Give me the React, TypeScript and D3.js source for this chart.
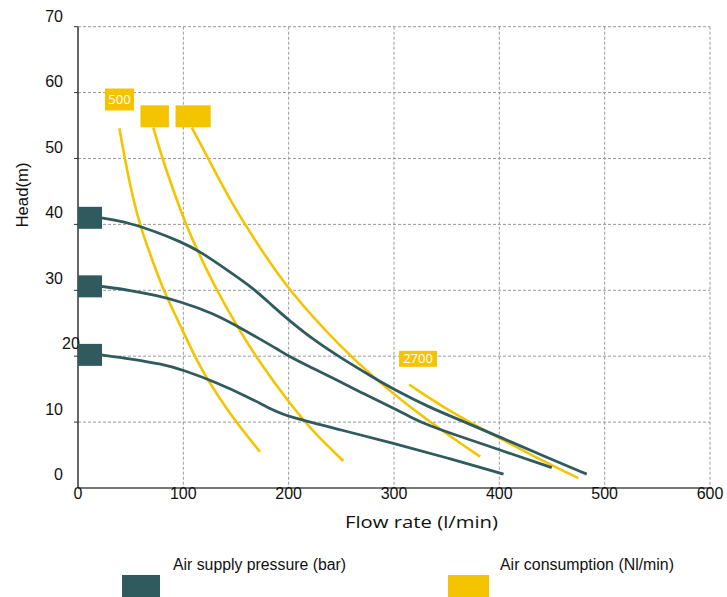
import React from "react";
import * as d3 from "d3";

// ---------- DATA ----------
const xTicks = [0, 100, 200, 300, 400, 500, 600];
const yTicks = [0, 10, 20, 30, 40, 50, 60, 70];

// Air supply pressure curves (flow l/min, head m)
const pressureHigh: [number, number][] = [
  [22, 41], [50, 40.2], [75, 38.8], [97, 37.4], [116, 35.9], [144, 32.8], [166.5, 30.3],
  [185.5, 27.5], [200, 25.5], [223.5, 22.5], [249, 19.8], [280, 16.8], [299.4, 15],
  [334, 12.2], [363, 10.3], [400.8, 7.7], [440, 5], [483, 2.1],
];
const pressureMid: [number, number][] = [
  [22, 30.6], [50, 30], [75, 29.2], [97, 28.3], [128.5, 26.5], [150.7, 24.6], [172.8, 22.6],
  [190, 21], [201, 19.9], [220, 18.4], [239.3, 16.9], [271, 14.3], [302.7, 11.9],
  [315, 10.8], [334, 9.4], [363, 7.8], [400, 5.8], [449.8, 3.1],
];
const pressureLow: [number, number][] = [
  [22, 20.2], [50, 19.6], [80, 18.8], [100, 17.9], [130, 16.1], [163, 13.7], [185, 11.8],
  [200, 10.8], [250, 8.8], [299, 6.8], [350, 4.6], [404, 2.1],
];
const pressureMarkers = [41, 30.6, 20.2];

// Air consumption curves
const consumption500: [number, number][] = [
  [39.3, 54.6], [44.3, 50], [52.5, 43.7], [60, 39.3], [70, 34.8], [81, 30], [100, 23.7],
  [111, 19.9], [122, 16.7], [140, 12.2], [163, 7.4], [172.8, 5.5],
];
const consumptionB: [number, number][] = [
  [71.5, 54.7], [80, 50], [93.7, 43.7], [105, 39], [115.9, 35.2], [131.7, 30], [150.7, 24.6],
  [171, 19.4], [200, 13], [225, 8.2], [252, 4.1],
];
const consumptionC: [number, number][] = [
  [108, 54.7], [125, 49.6], [144, 43.7], [172, 36.6], [200, 30], [249, 21.4], [287, 15.9],
  [315, 12.3], [350, 8.2], [381.8, 4.75],
];
const consumption2700: [number, number][] = [
  [314.3, 15.7], [353, 11.6], [400.8, 7.5], [440, 4.2], [475, 1.5],
];

// consumption tags: [x0, x1, yCenter] in data units, text
const consumptionTags: { x0: number; x1: number; y: number; text: string }[] = [
  { x0: 25.6, x1: 53.2, y: 58.95, text: "500" },
  { x0: 59.3, x1: 86.3, y: 56.4, text: "" },
  { x0: 92.6, x1: 126, y: 56.4, text: "" },
  { x0: 304.8, x1: 340.8, y: 19.6, text: "2700" },
];

const xTitle = "Flow rate (l/min)";
const yTitle = "Head(m)";
const legendItems = ["Air supply pressure (bar)", "Air consumption (Nl/min)"];

// ---------- STYLE ----------
const DARK = "#2F5B5F";
const YELLOW = "#F5C400";
const W = 727;
const H = 597;

export default function App() {
  const x = d3.scaleLinear().domain([0, 600]).range([78, 710]);
  const y = d3.scaleLinear().domain([0, 70]).range([488, 26.7]);
  const yLab = d3.scaleLinear().domain([0, 70]).range([480, 21.7]);

  const line = d3
    .line<[number, number]>()
    .x((d) => x(d[0]))
    .y((d) => y(d[1]))
    .curve(d3.curveBasis);

  const pressureSeries = [pressureHigh, pressureMid, pressureLow];
  const consumptionSeries = [consumption500, consumptionB, consumptionC, consumption2700];

  const markerH = 22;

  return (
    <svg
      width={W}
      height={H}
      style={{ position: "absolute", left: 0, top: 0, background: "#fff" }}
      fontFamily="'Liberation Sans', Arial, sans-serif"
    >
      <rect width={W} height={H} fill="#fff" />
      {/* grid */}
      {xTicks.filter((t) => t > 0).map((t) => (
        <line key={"gx" + t} x1={x(t)} x2={x(t)} y1={y(70)} y2={y(0)} stroke="#9a9a9a" strokeDasharray="3,2" strokeWidth={1} />
      ))}
      {yTicks.filter((t) => t > 0).map((t) => (
        <line key={"gy" + t} x1={x(0)} x2={x(600)} y1={y(t)} y2={y(t)} stroke="#9a9a9a" strokeDasharray="3,2" strokeWidth={1} />
      ))}
      {/* y ticks */}
      {yTicks.filter((t) => t > 0).map((t) => (
        <line key={"ty" + t} x1={x(0) - 4} x2={x(0)} y1={y(t)} y2={y(t)} stroke="#333" strokeWidth={1} />
      ))}
      {/* axes */}
      <line x1={x(0)} x2={x(0)} y1={y(70)} y2={y(0)} stroke="#333" strokeWidth={1.5} />
      <line x1={x(0)} x2={712} y1={y(0)} y2={y(0)} stroke="#777" strokeWidth={2} />

      {/* y tick labels */}
      {yTicks.map((t) =>
        t === 20 ? (
          <text key={"ly" + t} x={62} y={yLab(t)} fontSize={16} fill="#111" textAnchor="start">
            {t}
          </text>
        ) : (
          <text key={"ly" + t} x={63} y={yLab(t)} fontSize={16} fill="#111" textAnchor="end">
            {t}
          </text>
        )
      )}
      {/* x tick labels */}
      {xTicks.map((t) => (
        <text key={"lx" + t} x={x(t)} y={499} fontSize={16} fill="#111" textAnchor="middle">
          {t}
        </text>
      ))}

      {/* titles */}
      <text x={345} y={528} fontSize={16} fill="#111" fontFamily="'Open Sans', sans-serif" textLength={153} lengthAdjust="spacingAndGlyphs">
        {xTitle}
      </text>
      <text transform="translate(28,195) rotate(-90)" textAnchor="middle" fontSize={16.5} fill="#111" textLength={65} lengthAdjust="spacingAndGlyphs">
        {yTitle}
      </text>

      {/* consumption curves */}
      {consumptionSeries.map((s, i) => (
        <path key={"c" + i} d={line(s) || ""} fill="none" stroke={YELLOW} strokeWidth={2.6} />
      ))}
      {/* pressure curves */}
      {pressureSeries.map((s, i) => (
        <path key={"p" + i} d={line(s) || ""} fill="none" stroke={DARK} strokeWidth={2.8} />
      ))}

      {/* pressure markers */}
      {pressureMarkers.map((v, i) => (
        <rect key={"m" + i} x={x(0)} y={y(v) - markerH / 2} width={x(22.8) - x(0)} height={markerH} fill={DARK} />
      ))}

      {/* consumption tags */}
      {consumptionTags.map((t, i) => {
        const h = t.text === "2700" ? 16 : 22;
        return (
          <g key={"tag" + i}>
            <rect x={x(t.x0)} y={y(t.y) - h / 2} width={x(t.x1) - x(t.x0)} height={h} fill={YELLOW} />
            {t.text && (
              <text
                x={(x(t.x0) + x(t.x1)) / 2}
                y={y(t.y) + 4.5}
                textAnchor="middle"
                fontSize={13}
                fill="#fff"
                fontFamily="'Open Sans', sans-serif"
              >
                {t.text}
              </text>
            )}
          </g>
        );
      })}

      {/* legend */}
      <rect x={122} y={575} width={38} height={22} fill={DARK} />
      <text x={173} y={570} fontSize={16} fill="#111" textLength={173} lengthAdjust="spacingAndGlyphs">
        {legendItems[0]}
      </text>
      <rect x={448} y={575} width={41} height={22} fill={YELLOW} />
      <text x={500} y={570} fontSize={16} fill="#111" textLength={174} lengthAdjust="spacingAndGlyphs">
        {legendItems[1]}
      </text>
    </svg>
  );
}
